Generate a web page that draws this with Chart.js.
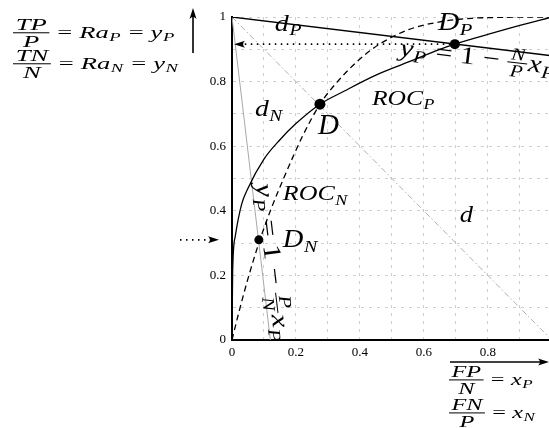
<!DOCTYPE html>
<html><head><meta charset="utf-8">
<script src="https://cdn.jsdelivr.net/npm/chart.js@4.4.1/dist/chart.umd.min.js"></script>
<style>html,body{margin:0;padding:0;background:#fff;overflow:hidden;width:549px;height:428px}
#c{position:absolute;left:0;top:0}</style></head>
<body><canvas id="c" width="560" height="428"></canvas>
<script>
// ---- data ----
const xTickLabels = ['0', '0.2', '0.4', '0.6', '0.8', '1'];
const yTickLabels = ['0', '0.2', '0.4', '0.6', '0.8', '1'];
const rocPX = [0, 0.002, 0.01, 0.03, 0.05, 0.1, 0.15, 0.2, 0.275, 0.35, 0.45, 0.55, 0.65, 0.697, 0.8, 0.9, 1];
const rocPY = [0, 0.21, 0.32, 0.42, 0.47, 0.56, 0.62, 0.67, 0.73, 0.77, 0.82, 0.86, 0.9, 0.916, 0.946, 0.974, 1];
const rocNX = [0, 0.02, 0.05, 0.084, 0.12, 0.17, 0.22, 0.275, 0.33, 0.4, 0.46, 0.55, 0.65, 0.75, 0.85, 1];
const rocNY = [0, 0.08, 0.19, 0.30, 0.40, 0.52, 0.63, 0.73, 0.80, 0.87, 0.915, 0.96, 0.985, 0.996, 0.999, 1];
const lineNPX = [0, 1];      // yP = 1 - N/P xP
const lineNPY = [1, 0.88];
const linePNX = [0, 0.12];   // yP = 1 - P/N xP
const linePNY = [1, 0];
const diagX = [0, 1];        // d
const diagY = [1, 0];
const guideX = [0.04, 0.697]; // dP
const guideY = [0.916, 0.916];
const pointNames = ['D', 'D_P', 'D_N'];
const pointX = [0.275, 0.697, 0.084];
const pointY = [0.73, 0.916, 0.31];

// ---- helpers ----
const SERIF = '"Liberation Serif","Times New Roman",serif';
const toXY = (xs, ys) => xs.map((v, i) => ({x: v, y: ys[i]}));

function drawMath(ctx, tokens, x, y, size, sx) {
  sx = sx || 1;
  ctx.save();
  ctx.translate(x, y);
  ctx.scale(sx, 1);
  let cx = 0;
  for (const tok of tokens) {
    const p = tok.indexOf(':');
    const k = tok.slice(0, p), v = tok.slice(p + 1);
    if (k === 'i' || k === 'r') {
      ctx.font = (k === 'i' ? 'italic ' : '') + size + 'px ' + SERIF;
      ctx.fillText(v, cx, 0);
      cx += ctx.measureText(v).width;
    } else if (k === 's') {
      const s = size * 0.7;
      ctx.font = 'italic ' + s + 'px ' + SERIF;
      ctx.fillText(v, cx + size * 0.02, size * 0.2);
      cx += ctx.measureText(v).width + size * 0.06;
    } else if (k === 'o') {
      ctx.font = size + 'px ' + SERIF;
      const sp = size * 0.26;
      ctx.fillText(v, cx + sp, 0);
      cx += ctx.measureText(v).width + 2 * sp;
    } else if (k === 'f' || k === 'g') {
      const parts = v.split('/');
      const s = k === 'f' ? size : size * 0.7;
      ctx.font = 'italic ' + s + 'px ' + SERIF;
      const nw = ctx.measureText(parts[0]).width, dw = ctx.measureText(parts[1]).width;
      const pad = size * 0.1;
      const W = Math.max(nw, dw) + 2 * pad;
      const axis = -size * 0.27;
      ctx.fillRect(cx, axis - 0.5, W, 1);
      ctx.fillText(parts[0], cx + (W - nw) / 2, axis - s * 0.16);
      ctx.fillText(parts[1], cx + (W - dw) / 2, axis + s * 0.8);
      cx += W + size * 0.04;
    }
  }
  ctx.restore();
  return cx * sx;
}

function arrowHead(ctx, tx, ty, ang, len, wid) {
  ctx.save();
  ctx.translate(tx, ty);
  ctx.rotate(ang);
  ctx.beginPath();
  ctx.moveTo(0, 0);
  ctx.lineTo(-len, -wid / 2);
  ctx.quadraticCurveTo(-len * 0.65, 0, -len, wid / 2);
  ctx.closePath();
  ctx.fill();
  ctx.restore();
}

function line(ctx, x1, y1, x2, y2, w, dash) {
  ctx.save();
  ctx.lineWidth = w;
  ctx.setLineDash(dash || []);
  ctx.beginPath(); ctx.moveTo(x1, y1); ctx.lineTo(x2, y2); ctx.stroke();
  ctx.restore();
}

const annot = {
  id: 'annot',
  afterDatasetsDraw(chart) {
    const {ctx, scales: {x, y}} = chart;
    const X = v => x.getPixelForValue(v), Y = v => y.getPixelForValue(v);
    ctx.save();
    ctx.fillStyle = '#000'; ctx.strokeStyle = '#000';
    ctx.textAlign = 'left'; ctx.textBaseline = 'alphabetic';
    // arrowhead of dP guide
    arrowHead(ctx, X(0) + 2, Y(guideY[0]), Math.PI, 11, 7);
    // labels
    const labels = [
      {t: ['i:d', 's:P'], x: 0.134, y: 0.957, s: 23, sx: 1.22},
      {t: ['i:D', 's:P'], x: 0.644, y: 0.960, s: 25, sx: 1.18},
      {t: ['i:d', 's:N'], x: 0.072, y: 0.693, s: 23, sx: 1.2},
      {t: ['i:ROC', 's:P'], x: 0.4375, y: 0.728, s: 22, sx: 1.16},
      {t: ['i:D'], x: 0.269, y: 0.638, s: 29, sx: 1.0},
      {t: ['i:ROC', 's:N'], x: 0.159, y: 0.433, s: 22, sx: 1.18},
      {t: ['i:D', 's:N'], x: 0.159, y: 0.288, s: 25, sx: 1.14},
      {t: ['i:d'], x: 0.7125, y: 0.365, s: 23, sx: 1.15}
    ];
    for (const l of labels) drawMath(ctx, l.t, X(l.x), Y(l.y), l.s, l.sx);
    // equation along yP = 1 - N/P xP
    {
      const a = Math.atan2(Y(lineNPY[1]) - Y(lineNPY[0]), X(lineNPX[1]) - X(lineNPX[0]));
      const t = 0.53;
      const px = X(lineNPX[0] + (lineNPX[1] - lineNPX[0]) * t);
      const py = Y(lineNPY[0] + (lineNPY[1] - lineNPY[0]) * t);
      ctx.save(); ctx.translate(px, py); ctx.rotate(a);
      drawMath(ctx, ['i:y', 's:P', 'o:=', 'r:1', 'o:\u2212', 'g:N/P', 'i:x', 's:P'], 0, 18, 25, 1.2);
      ctx.restore();
    }
    // equation along yP = 1 - P/N xP
    {
      const a = Math.atan2(Y(linePNY[1]) - Y(linePNY[0]), X(linePNX[1]) - X(linePNX[0]));
      const t = 0.52;
      const px = X(linePNX[0] + (linePNX[1] - linePNX[0]) * t);
      const py = Y(linePNY[0] + (linePNY[1] - linePNY[0]) * t);
      ctx.save(); ctx.translate(px, py); ctx.rotate(a);
      drawMath(ctx, ['i:y', 's:P', 'o:=', 'r:1', 'o:\u2212', 'g:P/N', 'i:x', 's:P'], 0, -4, 25, 1.22);
      ctx.restore();
    }
    ctx.restore();
  },
  afterDraw(chart) {
    const {ctx, chartArea: ca, scales: {y}} = chart;
    ctx.save();
    ctx.fillStyle = '#000'; ctx.strokeStyle = '#000';
    ctx.textAlign = 'left'; ctx.textBaseline = 'alphabetic';
    // up arrow (y axis meaning)
    line(ctx, ca.left - 39, ca.top + 36, ca.left - 39, ca.top - 4, 1.6);
    arrowHead(ctx, ca.left - 39, ca.top - 9, -Math.PI / 2, 11, 7);
    // right arrow (x axis meaning)
    line(ctx, ca.left + 218, ca.bottom + 22, ca.left + 308, ca.bottom + 22, 1.6);
    arrowHead(ctx, ca.left + 317, ca.bottom + 22, 0, 11, 7);
    // dotted arrow at D_N height, outside
    const yn = y.getPixelForValue(pointY[2]);
    line(ctx, ca.left - 52, yn, ca.left - 22, yn, 1.6, [1.5, 4.5]);
    arrowHead(ctx, ca.left - 13, yn, 0, 11, 7);
    // axis meaning texts
    drawMath(ctx, ['f:TP/P', 'o:=', 'i:Ra', 's:P', 'o:=', 'i:y', 's:P'], 13, 37.5, 17.5, 1.52);
    drawMath(ctx, ['f:TN/N', 'o:=', 'i:Ra', 's:N', 'o:=', 'i:y', 's:N'], 13, 68.5, 17.5, 1.52);
    drawMath(ctx, ['f:FP/N', 'o:=', 'i:x', 's:P'], 449, 384.5, 17, 1.43);
    drawMath(ctx, ['f:FN/P', 'o:=', 'i:x', 's:N'], 449, 417.5, 17, 1.43);
    ctx.restore();
  }
};

const tickFont = {family: SERIF, size: 13};
const gridOpts = {color: '#cfcfcf', lineWidth: 1, drawTicks: false};
const borderOpts = {color: '#000', width: 2, dash: [3, 5]};

new Chart(document.getElementById('c'), {
  type: 'scatter',
  data: {
    datasets: [
      {label: 'points', data: toXY(pointX, pointY), order: 0, showLine: false,
       pointRadius: [5.5, 5, 4.5], pointBackgroundColor: '#000', pointBorderColor: '#000', pointBorderWidth: 0},
      {label: 'dP', data: toXY(guideX, guideY), order: 1, showLine: true, borderColor: '#000',
       borderWidth: 1.6, borderDash: [1.5, 4.5], pointRadius: 0},
      {label: 'ROC_P', data: toXY(rocPX, rocPY), order: 2, showLine: true, borderColor: '#000',
       borderWidth: 1.3, pointRadius: 0, cubicInterpolationMode: 'monotone'},
      {label: 'ROC_N', data: toXY(rocNX, rocNY), order: 3, showLine: true, borderColor: '#000',
       borderWidth: 1.3, borderDash: [6, 4], pointRadius: 0, cubicInterpolationMode: 'monotone'},
      {label: 'yP=1-N/P xP', data: toXY(lineNPX, lineNPY), order: 4, showLine: true, borderColor: '#000',
       borderWidth: 1.3, pointRadius: 0},
      {label: 'yP=1-P/N xP', data: toXY(linePNX, linePNY), order: 5, showLine: true, borderColor: '#a8a8a8',
       borderWidth: 1, pointRadius: 0},
      {label: 'd', data: toXY(diagX, diagY), order: 6, showLine: true, borderColor: '#b0b0b0',
       borderWidth: 1, borderDash: [6, 2.5, 1.5, 2.5], pointRadius: 0}
    ]
  },
  options: {
    responsive: false, animation: false, devicePixelRatio: 1,
    layout: {padding: {left: 192, top: 17, right: 8, bottom: 58}},
    plugins: {legend: {display: false}, tooltip: {enabled: false}},
    scales: {
      x: {
        type: 'linear', min: 0, max: 1,
        afterFit: s => { s.height = 30; },
        ticks: {stepSize: 0.1, autoSkip: false, maxRotation: 0, padding: 5, color: '#000', font: tickFont,
                callback: v => { const k = Math.round(v * 10); return k % 2 === 0 ? xTickLabels[k / 2] : ''; }},
        grid: gridOpts, border: borderOpts
      },
      y: {
        type: 'linear', min: 0, max: 1,
        afterFit: s => { s.width = 40; },
        ticks: {stepSize: 0.1, autoSkip: false, padding: 6, color: '#000', font: tickFont,
                callback: v => { const k = Math.round(v * 10); return k % 2 === 0 ? yTickLabels[k / 2] : ''; }},
        grid: gridOpts, border: borderOpts
      }
    }
  },
  plugins: [annot]
});
</script>
</body></html>
